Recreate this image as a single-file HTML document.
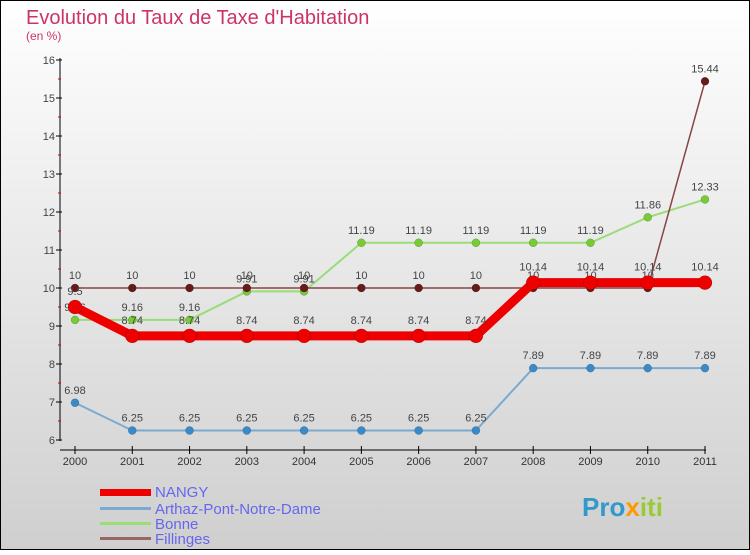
<!DOCTYPE html>
<html><head><meta charset="utf-8"><style>
html,body{margin:0;padding:0}
body{width:750px;height:550px;overflow:hidden;font-family:"Liberation Sans",sans-serif}
</style></head><body>
<svg id="chart" width="750" height="550" xmlns="http://www.w3.org/2000/svg">
<defs><linearGradient id="bg" x1="0" y1="0" x2="0" y2="1"><stop offset="0" stop-color="#ffffff"/><stop offset="1" stop-color="#cfcfcf"/></linearGradient></defs>
<rect x="0.5" y="0.5" width="749" height="549" fill="url(#bg)" stroke="#000"/>
<text x="26" y="24" font-size="20" fill="#cc3366">Evolution du Taux de Taxe d'Habitation</text>
<text x="26" y="40" font-size="12" fill="#cc3366">(en %)</text>
<g id="axes"></g><g id="series"></g>
<g font-size="15" fill="#6666ee">
<rect x="100" y="489" width="51" height="7" fill="#ee0000"/>
<text x="155" y="497">NANGY</text>
<rect x="100" y="507" width="51" height="3" fill="#7aaad0"/>
<text x="155" y="514">Arthaz-Pont-Notre-Dame</text>
<rect x="100" y="522" width="51" height="3" fill="#99dd77"/>
<text x="155" y="529">Bonne</text>
<rect x="100" y="537" width="51" height="3" fill="#996666"/>
<text x="155" y="544">Fillinges</text>
</g>
<text x="582" y="516" font-size="26" font-weight="bold" fill="#3399cc">Pro<tspan fill="#ff9900">x</tspan><tspan fill="#99cc33">iti</tspan></text>
</svg>
<script>
const years=[2000,2001,2002,2003,2004,2005,2006,2007,2008,2009,2010,2011];
const nangy=[9.5,8.74,8.74,8.74,8.74,8.74,8.74,8.74,10.14,10.14,10.14,10.14];
const arthaz=[6.98,6.25,6.25,6.25,6.25,6.25,6.25,6.25,7.89,7.89,7.89,7.89];
const bonne=[9.16,9.16,9.16,9.91,9.91,11.19,11.19,11.19,11.19,11.19,11.86,12.33];
const fillinges=[10,10,10,10,10,10,10,10,10,10,10,15.44];
const yTicks=[6,7,8,9,10,11,12,13,14,15,16];
const NS="http://www.w3.org/2000/svg";
const X=i=>75+i*(630/11);
const Y=v=>440-(v-6)*38;
function mk(tag,attrs,parent,txt){const e=document.createElementNS(NS,tag);for(const k in attrs)e.setAttribute(k,attrs[k]);if(txt!==undefined)e.textContent=txt;parent.appendChild(e);return e;}
const ax=document.getElementById('axes');
let l=mk('line',{x1:60,y1:58,x2:60,y2:441,stroke:'#000'},ax);


l=mk('line',{x1:60,y1:450,x2:706,y2:450,stroke:'#000'},ax);


yTicks.forEach((v,i)=>{
 mk('line',{x1:56,y1:Y(v),x2:62,y2:Y(v),stroke:'#000'},ax);
 if(i<yTicks.length-1)mk('line',{x1:58,y1:Y(v+0.5),x2:61,y2:Y(v+0.5),stroke:'#d00'},ax);
 const t=mk('text',{x:55,y:Y(v)+4,'text-anchor':'end','font-size':11,fill:'#444'},ax,v);
 
 
});
years.forEach((y,i)=>{
 mk('line',{x1:X(i),y1:446,x2:X(i),y2:454,stroke:'#000'},ax);
 const t=mk('text',{x:X(i),y:465,'text-anchor':'middle','font-size':11,fill:'#333'},ax,y);
 
 
});
const sg=document.getElementById('series');
function series(name,vals,color,w,r,dot,dy){
 const g=mk('g',{},sg);
 
 
 const p=mk('polyline',{points:vals.map((v,i)=>X(i)+','+Y(v)).join(' '),fill:'none',stroke:color,'stroke-width':w,'stroke-linejoin':'round'},g);
 
 
 vals.forEach((v,i)=>{
  const c=mk('circle',{cx:X(i),cy:Y(v),r:r,fill:dot,stroke:'rgba(0,0,0,0.3)','stroke-width':0.5},g);
  
  
  const t=mk('text',{x:X(i),y:Y(v)-dy,'text-anchor':'middle','font-size':11,fill:'#444'},g,String(v));
  
  
 });
}
series('arthaz',arthaz,'#7aaad0',2,4,'#3a8ac8',9);
series('bonne',bonne,'#99dd77',2,4,'#77cc33',9);
series('fillinges',fillinges,'#884444',1.5,4,'#661a1a',9);
series('nangy',nangy,'#ee0000',9,7,'#ee0000',12);
</script>
</body></html>
